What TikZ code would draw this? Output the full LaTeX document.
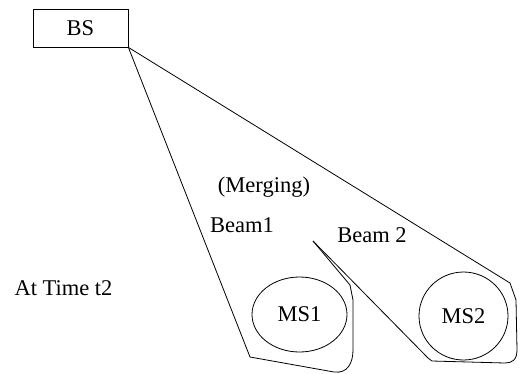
\documentclass[tikz,border=0pt]{standalone}
\usepackage{fontspec}
\setmainfont{Liberation Serif}
\usetikzlibrary{shapes.geometric}
\begin{document}
\begin{tikzpicture}[x=1pt,y=-1pt,
  every node/.style={font=\fontsize{22.5}{27}\selectfont},
  outline/.style={draw, line width=0.8pt, line join=round},
  lbl/.style={anchor=base, inner sep=0pt},
  msnode/.style={ellipse, draw, line width=0.8pt, inner sep=0pt}]
\useasboundingbox (0,0) rectangle (522,373);
\node[draw, line width=0.8pt, minimum width=95pt, minimum height=38pt, inner sep=0pt] (BS) at (80.5,28) {BS};
\node[msnode, minimum width=95pt, minimum height=75pt] (MS1) at (299.5,314.5) {MS1};
\node[msnode, minimum width=89pt, minimum height=88pt] (MS2) at (463.5,316) {MS2};
\coordinate (merge) at (313,241);
% Beam 1
\draw[outline] (BS.south east) -- (250,357) -- (334,372)
  .. controls (348,374) and (353,362) .. (353,350) -- (353,300) -- (350,285) -- (merge);
% Beam 2
\draw[outline] (BS.south east) -- (510,283) -- (516,300) -- (517,350)
  .. controls (517,360) and (512,363) .. (505,363) -- (432,361) -- (428,358) -- (merge);
\node[lbl] (merging) at (264,192) {(Merging)};
\node[lbl] (beam1) at (242,232) {Beam1};
\node[lbl] (beam2) at (372,242) {Beam 2};
\node[lbl] (time) at (63.5,295) {At Time t2};
\end{tikzpicture}
\end{document}
